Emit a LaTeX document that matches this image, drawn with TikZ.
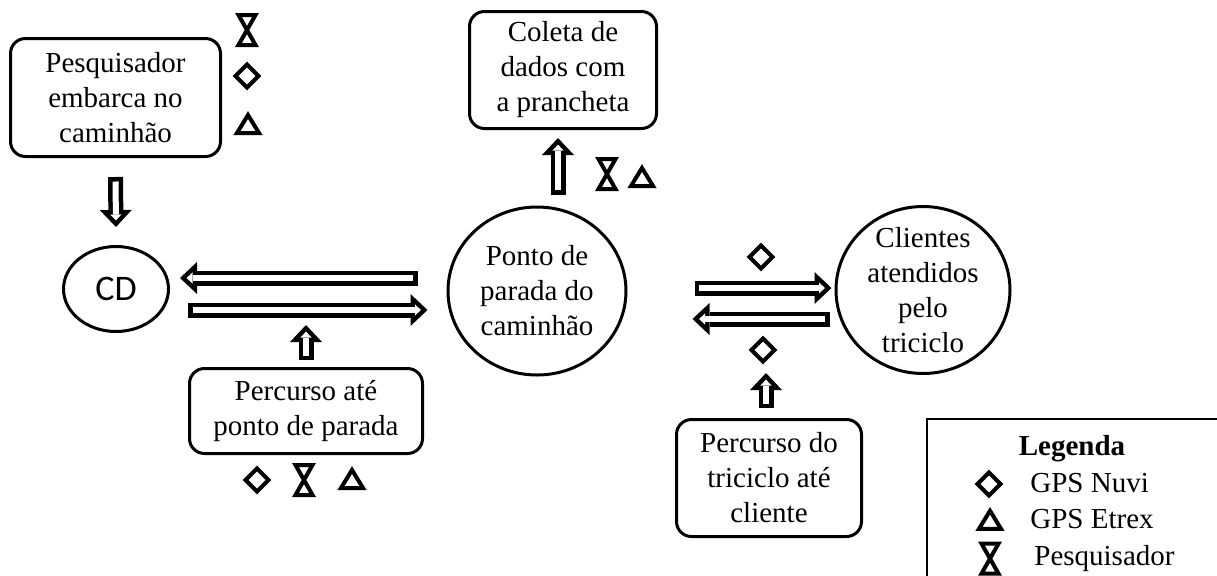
\documentclass[tikz,border=0pt]{standalone}
\usepackage{fontspec}
\setmainfont{Liberation Serif}
\newfontfamily\cdfont{Carlito}
\usetikzlibrary{positioning,shapes.geometric,arrows.meta}

\begin{document}
\begin{tikzpicture}[
    x=0.5pt, y=-0.5pt, % one unit = one pixel, y runs down
    font=\fontsize{14.5}{17.5}\selectfont,
    box/.style={rectangle, draw, rounded corners=7.5pt, line width=1.5pt, align=center, inner sep=0pt},
    oval/.style={ellipse, draw, line width=1.5pt, align=center, inner sep=0pt},
    fat/.style={
        preaction={draw=black, line width=7.5pt, shorten <=0pt, shorten >=0pt,
            -{Triangle[length=8.5pt, width=16pt, line width=0pt]}},
        draw=white, line width=3pt, shorten <=2.25pt, shorten >=3.3pt,
        -{Triangle[length=2.95pt, width=5.55pt, line width=0pt]}},
    sym/.style={draw, line width=2pt},
    legtxt/.style={inner sep=0pt, text height=10pt, text depth=3pt},
    nuvi/.pic={\draw[sym] (0,-11.5) -- (11.5,0) -- (0,11.5) -- (-11.5,0) -- cycle;},
    etrex/.pic={\draw[sym] (-11,8) -- (11,8) -- (0,-10) -- cycle;},
    pesq/.pic={\draw[sym] (-8.5,-15) -- (8.5,-15) -- (-8.5,15) -- (8.5,15) -- cycle;}
]
\useasboundingbox (0,0) rectangle (1217,575);

\node[box, minimum width=105pt, minimum height=59pt] (embarca) at (115.5,97.5) {Pesquisador\\embarca no\\caminhão};
\node[oval, minimum width=52.5pt, minimum height=42.5pt, font=\cdfont\fontsize{18}{20}\selectfont] (cd) at (116,289) {CD};
\node[oval, minimum width=89pt, minimum height=84pt] (ponto) at (537,291) {Ponto de\\parada do\\caminhão};
\node[box, minimum width=93.5pt, minimum height=58.5pt] (coleta) at (563,70) {Coleta de\\dados com\\a prancheta};
\node[oval, minimum width=87pt, minimum height=83.5pt, inner sep=-6pt] (clientes) at (923,290) {Clientes\\atendidos\\pelo\\triciclo};
\node[box, minimum width=116.5pt, minimum height=42.5pt] (percurso) at (306,411) {Percurso até\\ponto de parada};
\node[box, minimum width=92.5pt, minimum height=58.5pt] (triciclo) at (769,478) {Percurso do\\triciclo até\\cliente};

\coordinate (idaTip) at (306,325);
\coordinate (voltaTip) at (766,373);

% hollow arrows
\draw[fat] ([shift={(0,19)}]embarca.south) -- ([shift={(0,-18)}]cd.north);
\draw[fat] ([shift={(-29,-13)}]ponto.west) -- ([shift={(10,-11)}]cd.east);
\draw[fat] ([shift={(18,21)}]cd.east) -- ([shift={(-19,19)}]ponto.west);
\draw[fat] ([shift={(21,-11)}]ponto.north) -- ([shift={(-5,8)}]coleta.south);
\draw[fat] ([shift={(67,-3)}]ponto.east) -- ([shift={(-3,-2)}]clientes.west);
\draw[fat] ([shift={(-5,29)}]clientes.west) -- ([shift={(65,28)}]ponto.east);
\draw[fat] ([shift={(0,-7)}]percurso.north) -- (idaTip);
\draw[fat] ([shift={(-3,-10)}]triciclo.north) -- (voltaTip);

% equipment marks
\pic (pesqA) at (247,30) {pesq};
\pic (nuviA) at (247,76) {nuvi};
\pic (etrexA) at (248,125) {etrex};
\pic (pesqB) at (607,174) {pesq};
\pic (etrexB) at (642,178) {etrex};
\pic (nuviC) at (761,257) {nuvi};
\pic (nuviD) at (763,350) {nuvi};
\pic (nuviE) at (257,480) {nuvi};
\pic (pesqE) at (304,480) {pesq};
\pic (etrexE) at (352,480) {etrex};

% legend
\draw[line width=1pt] (927,419) rectangle (1240,600);
\node[anchor=base, font=\bfseries\fontsize{14.5}{17.5}\selectfont] (legTitle) at (1072,455) {Legenda};
\node[legtxt, anchor=base west] (legNuvi) at (1030,492) {GPS Nuvi};
\node[legtxt, below=5pt of legNuvi.south west, anchor=north west] (legEtrex) {GPS Etrex};
\node[legtxt, below=5pt of legEtrex.south west, anchor=north west, xshift=2pt] (legPesq) {Pesquisador};
\pic at ([shift={(-41,-1)}]legNuvi.west) {nuvi};
\pic at ([shift={(-40,-1)}]legEtrex.west) {etrex};
\pic at ([shift={(-44,0)}]legPesq.west) {pesq};

\end{tikzpicture}
\end{document}
